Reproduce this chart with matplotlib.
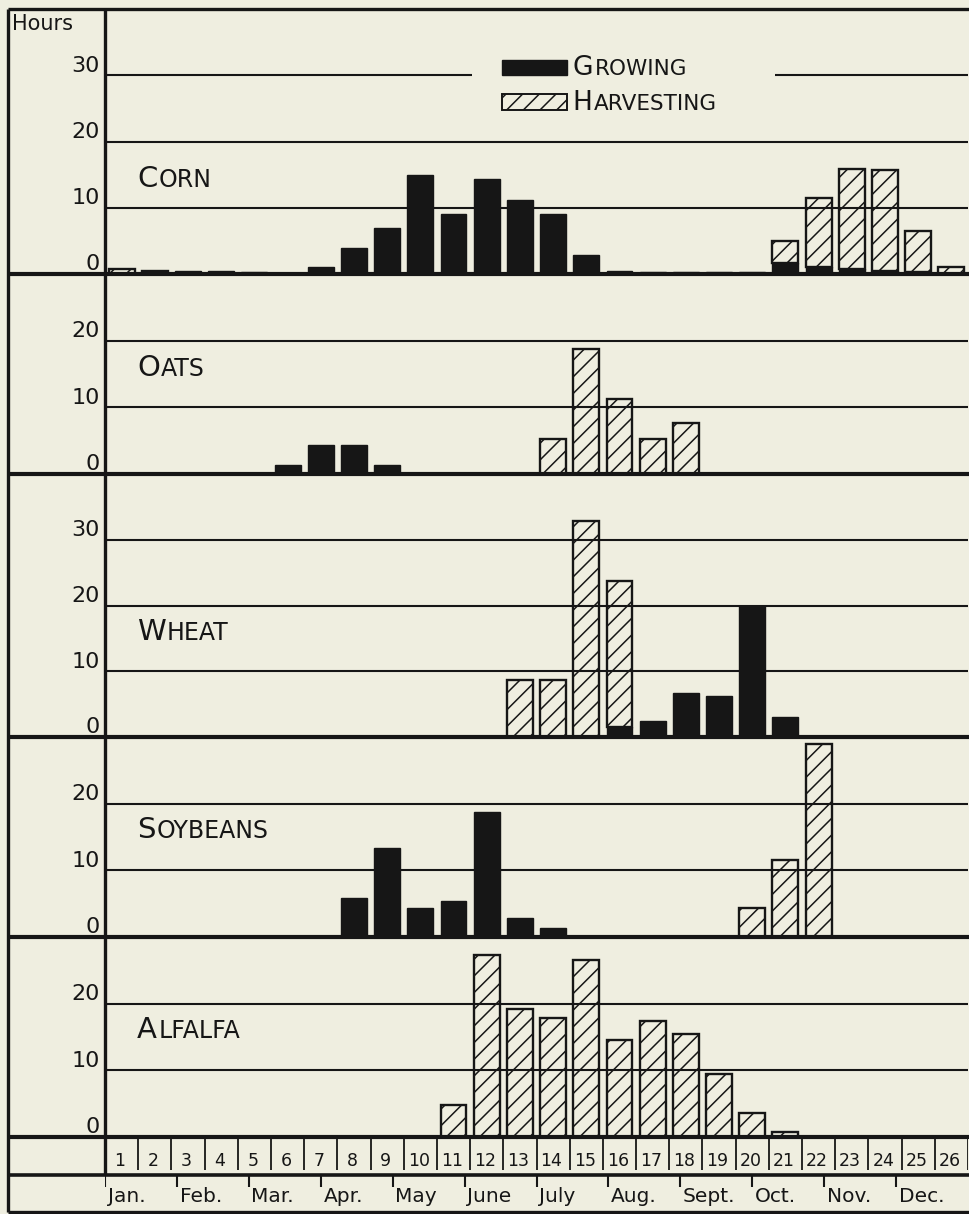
import numpy as np
import matplotlib
matplotlib.use("Agg")
import matplotlib.pyplot as plt
from matplotlib.lines import Line2D
from matplotlib.patches import Rectangle
from matplotlib.offsetbox import TextArea, HPacker, VPacker, DrawingArea, AnchoredOffsetbox

# data: hours per period (26 two-week periods)

periods = np.arange(1, 27)
months = ["Jan.", "Feb.", "Mar.", "Apr.", "May", "June",
          "July", "Aug.", "Sept.", "Oct.", "Nov.", "Dec."]

corn_grow = [0, 0, 0.4, 0.4, 0.3, 0.2, 1.1, 4.0, 7.0, 15.0, 9.1, 14.4, 11.1,
             9.1, 2.9, 0.5, 0.3, 0.3, 0.3, 0.3, 1.6, 1.0, 0.8, 0.5, 0.3, 0]
corn_harv = [0.8, 0.4, 0, 0, 0, 0, 0, 0, 0, 0, 0, 0, 0,
             0, 0, 0, 0, 0, 0, 0, 3.4, 10.5, 15.0, 15.2, 6.2, 1.0]

oats_grow = [0, 0, 0, 0, 0, 1.3, 4.3, 4.3, 1.4, 0, 0, 0, 0,
             0, 0, 0, 0, 0, 0, 0, 0, 0, 0, 0, 0, 0]
oats_harv = [0, 0, 0, 0, 0, 0, 0, 0, 0, 0, 0, 0, 0,
             5.3, 18.8, 11.3, 5.2, 7.6, 0, 0, 0, 0, 0, 0, 0, 0]

wheat_grow = [0, 0, 0, 0, 0, 0, 0, 0, 0, 0, 0, 0, 0,
              0, 0, 1.5, 2.4, 6.7, 6.2, 20.0, 3.1, 0, 0, 0, 0, 0]
wheat_harv = [0, 0, 0, 0, 0, 0, 0, 0, 0, 0, 0, 0, 8.6,
              8.6, 32.8, 22.2, 0, 0, 0, 0, 0, 0, 0, 0, 0, 0]

soy_grow = [0, 0, 0, 0, 0, 0, 0, 5.9, 13.3, 4.3, 5.4, 18.7, 2.8,
            1.4, 0, 0, 0, 0, 0, 0, 0, 0, 0, 0, 0, 0]
soy_harv = [0, 0, 0, 0, 0, 0, 0, 0, 0, 0, 0, 0, 0,
            0, 0, 0, 0, 0, 0, 4.3, 11.5, 29.0, 0, 0, 0, 0]

alfalfa_grow = [0] * 26
alfalfa_harv = [0, 0, 0, 0, 0, 0, 0, 0, 0, 0, 4.75, 27.3, 19.25,
                17.9, 26.55, 14.55, 17.4, 15.4, 9.5, 3.65, 0.75, 0, 0, 0, 0, 0]

crops = ["Corn", "Oats", "Wheat", "Soybeans", "Alfalfa"]
grow = [corn_grow, oats_grow, wheat_grow, soy_grow, alfalfa_grow]
harv = [corn_harv, oats_harv, wheat_harv, soy_harv, alfalfa_harv]
ytops = [40, 30, 40, 30, 30]

# layout (pixels of the 969x1214 image)
W, H = 969, 1214
BG = "#efeee0"
INK = "#161616"
AX_L, AX_R, FR_L = 105, 968, 8
panel_px = [(9, 274), (274, 474), (474, 737), (737, 937), (937, 1137)]
label_y = [0.36, 0.53, 0.40, 0.535, 0.535]
FONT = "DejaVu Sans"

plt.rcParams["hatch.linewidth"] = 1.1
plt.rcParams["font.family"] = FONT

fig = plt.figure(figsize=(W / 100, H / 100), dpi=100, facecolor=BG)


def px_axes(top, bottom, left=AX_L, right=AX_R):
    ax = fig.add_axes([left / W, 1 - bottom / H, (right - left) / W, (bottom - top) / H])
    ax.set_axis_off()
    ax.patch.set_alpha(0)
    return ax


def fig_line(xs, ys, lw):
    fig.add_artist(Line2D([x / W for x in xs], [1 - y / H for y in ys],
                          transform=fig.transFigure, color=INK, lw=lw,
                          solid_capstyle="butt"))


def smallcaps(word, big, small):
    a = TextArea(word[0].upper(), textprops=dict(size=big, color=INK))
    b = TextArea(word[1:].upper(), textprops=dict(size=small, color=INK))
    return HPacker(children=[a, b], align="baseline", pad=0, sep=1)


for i, crop in enumerate(crops):
    top, bot = panel_px[i]
    ax = px_axes(top, bot)
    ax.set_xlim(0.5, 26.5)
    ax.set_ylim(0, ytops[i])

    # grid lines, with the top corn line broken for the legend
    for v in range(10, ytops[i], 10):
        if i == 0 and v == 30:
            ax.hlines(v, 0.5, 11.55, color=INK, lw=1.5, zorder=1)
            ax.hlines(v, 20.68, 26.5, color=INK, lw=1.5, zorder=1)
        else:
            ax.axhline(v, color=INK, lw=1.5, zorder=1)
        ax.text(-0.006, v - 0.1, str(v), transform=ax.get_yaxis_transform(),
                ha="right", va="bottom", fontsize=16, color=INK)
    ax.text(-0.006, 0.0, "0", transform=ax.get_yaxis_transform(),
            ha="right", va="bottom", fontsize=16, color=INK)

    g = np.array(grow[i], dtype=float)
    h = np.array(harv[i], dtype=float)
    mg = g > 0
    mh = h > 0
    ax.bar(periods[mg], g[mg], width=0.78, color=INK, edgecolor=INK,
           lw=1.0, zorder=3)
    ax.bar(periods[mh], h[mh], bottom=g[mh], width=0.78, facecolor="none",
           edgecolor=INK, hatch="//", lw=1.7, zorder=3)

    lab = AnchoredOffsetbox(loc="center left", child=smallcaps(crop, 21, 17),
                            bbox_to_anchor=(0.037, label_y[i]),
                            bbox_transform=ax.transAxes, frameon=False,
                            pad=0, borderpad=0)
    ax.add_artist(lab)

    if i == 0:
        rows = []
        for name, style in [("Growing", "solid"), ("Harvesting", "hatch")]:
            da = DrawingArea(47, 12, 0, 0)
            if style == "solid":
                da.add_artist(Rectangle((0, 0), 47, 11, facecolor=INK,
                                        edgecolor=INK, lw=1.0))
            else:
                da.add_artist(Rectangle((0, 0), 47, 11, facecolor="none",
                                        edgecolor=INK, hatch="//", lw=1.4))
            rows.append(HPacker(children=[da, smallcaps(name, 19, 15.5)],
                                align="baseline", pad=0, sep=4))
        leg = AnchoredOffsetbox(loc="upper left",
                                child=VPacker(children=rows, align="left",
                                              pad=0, sep=6),
                                bbox_to_anchor=(0.46, 0.825),
                                bbox_transform=ax.transAxes, frameon=False,
                                pad=0, borderpad=0)
        ax.add_artist(leg)

# period number strip
axn = px_axes(1137, 1175)
axn.set_xlim(0.5, 26.5)
axn.set_ylim(0, 1)
axn.vlines(np.arange(1.5, 27), 0.12, 1, color=INK, lw=1.3)
for p in periods:
    axn.text(p - 0.05, 0.36, str(p), ha="center", va="center", fontsize=12.5, color=INK)

# month strip
axm = px_axes(1175, 1212)
axm.set_xlim(0.5, 26.5)
axm.set_ylim(0, 1)
edges = 0.5 + np.arange(12) * 26 / 12
axm.vlines(edges, 0.68, 1, color=INK, lw=1.5)
for e, m in zip(edges, months):
    axm.text(e + 0.08, 0.42, m, ha="left", va="center", fontsize=14.5, color=INK)

# frame and separators
for y in [274, 474, 737, 937, 1137]:
    fig_line([FR_L, W], [y, y], 3.0)
fig_line([FR_L, W], [1175, 1175], 2.6)
fig_line([FR_L, W], [9, 9], 2.4)
fig_line([FR_L, W], [1212, 1212], 2.4)
fig_line([FR_L, FR_L], [9, 1212], 2.4)
fig_line([AX_L, AX_L], [9, 1175], 2.4)

fig.text(12 / W, 1 - 14 / H, "Hours", ha="left", va="top", fontsize=15, color=INK)

fig.savefig("out.png", dpi=100, facecolor=BG)
